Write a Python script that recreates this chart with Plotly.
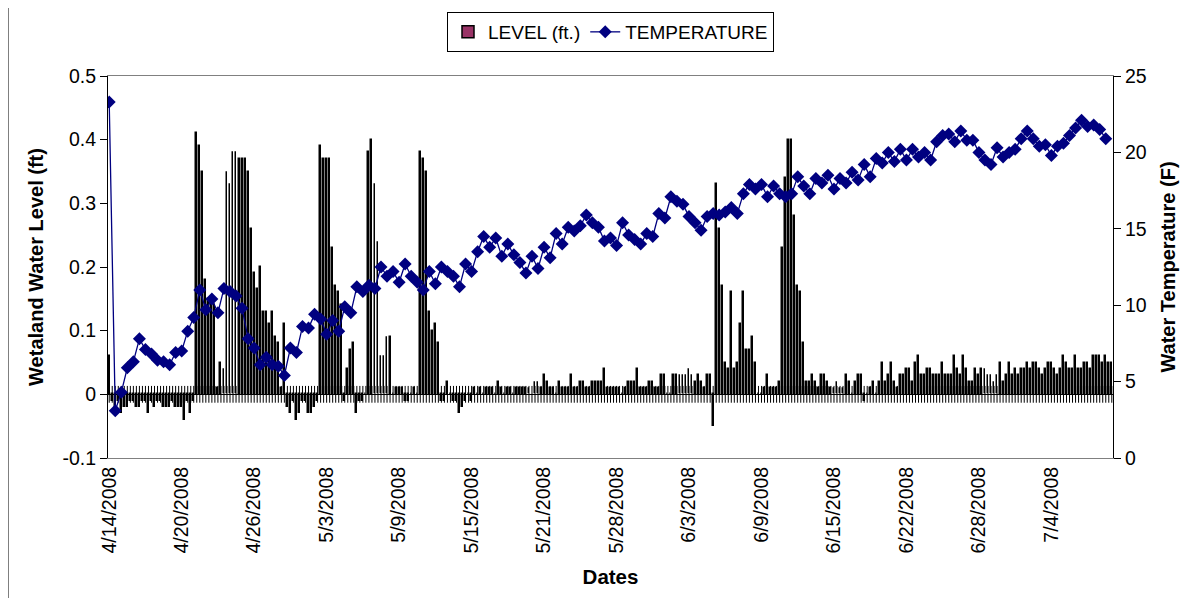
import plotly.graph_objects as go

# ---------------- data ----------------
tick_labels = ["4/14/2008", "4/20/2008", "4/26/2008", "5/3/2008", "5/9/2008",
               "5/15/2008", "5/21/2008", "5/28/2008", "6/3/2008", "6/9/2008",
               "6/15/2008", "6/22/2008", "6/28/2008", "7/4/2008"]
readings_per_label = 24      # one date label every 24 readings
temp_every = 2               # temperature logged every 2nd reading

level_ticks = [-0.1, 0, 0.1, 0.2, 0.3, 0.4, 0.5]
level_tick_text = ["-0.1", "0", "0.1", "0.2", "0.3", "0.4", "0.5"]
temp_ticks = [0, 5, 10, 15, 20, 25]

level = [
    0.06,
    -0.01, -0.02, -0.01, -0.03, -0.02, -0.02, -0.01, -0.01, -0.02, -0.02, -0.01, -0.01, -0.03, -0.01,
    -0.02, -0.01, -0.01, -0.02, -0.02, -0.02, -0.01, -0.02, -0.02, -0.02, -0.04, -0.01, -0.03, -0.01,
    0.41, 0.39, 0.35, 0.18, 0.15, 0.15, 0.14, 0.01, 0.05, 0.04, 0.35, 0.33, 0.38, 0.38, 0.37, 0.37,
    0.37, 0.35, 0.26, 0.19, 0.165, 0.20, 0.13, 0.13, 0.11, 0.13, 0.09,
    0.08, 0.01, 0.11, -0.02, -0.03, -0.01, -0.04, -0.03, -0.01, -0.01, -0.03, -0.03, -0.02, -0.01,
    0.39, 0.37, 0.37, 0.37, 0.23, 0.17, 0.16, 0.14, -0.01, 0.04, 0.07, 0.08, -0.03, -0.01, -0.01, 0.0,
    0.38, 0.40, 0.33, 0.24, 0.06, 0.06, 0.09, 0.09, 0.0, 0.01, 0.01, 0.01, -0.01, -0.01, 0.0, 0.01, 0.0,
    0.38, 0.37, 0.35, 0.13, 0.10, 0.11, 0.08, -0.01, -0.01, 0.02,
    0.0, -0.01, -0.01, -0.03, -0.02, -0.01, 0.0, -0.01, 0.01, 0.0, 0.01, 0.0, 0.01, 0.01, 0.01, 0.0,
    0.02, 0.01, 0.0, 0.01, 0.01, 0.0, 0.01, 0.01, 0.01, 0.01, 0.01, 0.0, 0.02, 0.02, 0.01, 0.03,
    0.02, 0.01, 0.01, 0.0, 0.02, 0.01, 0.01, 0.01, 0.03, 0.01, 0.01, 0.02, 0.02, 0.01, 0.01, 0.02,
    0.02, 0.02, 0.02, 0.04,
    0.01, 0.01, 0.01, 0.01, 0.01, 0.0, 0.01, 0.02, 0.02, 0.02, 0.04, 0.01, 0.01, 0.01, 0.02, 0.02,
    0.01, 0.01, 0.03, 0.03, 0.0, 0.0, 0.03, 0.03, 0.03, 0.03, 0.03, 0.04, 0.03, 0.02, 0.03, 0.02,
    0.01, 0.03, 0.03, -0.05,
    0.33, 0.26, 0.17, 0.05, 0.04, 0.16, 0.04, 0.05, 0.11, 0.16, 0.07, 0.07, 0.09, 0.05, 0.0, 0.0,
    0.01, 0.03, 0.01, 0.01, 0.01, 0.02,
    0.23, 0.34, 0.40, 0.40, 0.28, 0.17, 0.16, 0.08,
    0.02, 0.02, 0.03, 0.02, 0.01, 0.03, 0.03, 0.02, 0.01, 0.01, 0.02, 0.01, 0.01, 0.03, 0.02, 0.0,
    0.02, 0.03, 0.03, -0.01, 0.0, 0.01, 0.02, 0.0, 0.02, 0.05, 0.02, 0.03, 0.05, 0.02, 0.01, 0.03,
    0.03, 0.04, 0.04, 0.02, 0.05, 0.06, 0.03, 0.03, 0.04, 0.04, 0.03, 0.03, 0.03, 0.05, 0.03, 0.03,
    0.03, 0.06, 0.04, 0.03, 0.06, 0.04, 0.02, 0.02, 0.04, 0.03, 0.04, 0.04, 0.03, 0.03, 0.02, 0.03,
    0.05, 0.02, 0.03, 0.05, 0.03, 0.04, 0.03, 0.04, 0.04, 0.05, 0.04, 0.05, 0.05, 0.04, 0.03, 0.04,
    0.05, 0.05, 0.04, 0.03, 0.04, 0.06, 0.05, 0.04, 0.04, 0.06, 0.04, 0.04, 0.05, 0.05, 0.04, 0.06,
    0.06, 0.06, 0.05, 0.06, 0.05, 0.05,
]

temperature = [
    23.3, 3.1, 4.3, 5.9, 6.3, 7.8, 7.1, 6.8, 6.4, 6.3, 6.1, 6.9, 7.0, 8.3, 9.2, 11.0, 9.7, 10.4,
    9.5, 11.1, 10.9, 10.6, 9.8, 7.8, 7.2, 6.1, 6.6,
    6.1, 6.0, 5.4, 7.2, 6.9, 8.6, 8.5, 9.4, 9.1, 8.1, 9.0, 8.3, 9.9, 9.5, 11.2, 10.9, 11.3, 11.1,
    12.5, 11.9, 12.2, 11.5, 12.7, 11.9, 11.5, 11.0, 12.2, 11.4, 12.5,
    12.2, 11.9, 11.2, 12.7, 12.2, 13.5, 14.5, 13.8, 14.4, 13.2, 14.0, 13.3, 12.8, 12.1, 13.2, 12.4,
    13.8, 13.1, 14.7, 14.0, 15.1, 14.85, 15.2, 15.9, 15.4, 15.1, 14.2,
    14.4, 13.9, 15.4, 14.6, 14.3, 14.0, 14.7, 14.5, 16.0, 15.7, 17.1, 16.8, 16.6, 15.8, 15.4, 14.9,
    15.8, 16.0, 15.9, 16.1, 16.4, 16.0, 17.3, 17.9, 17.6, 17.9, 17.1, 17.8,
    17.3, 17.1, 17.3, 18.4, 17.8, 17.3, 18.3, 18.0, 18.5, 17.6, 18.3, 18.0, 18.7, 18.2, 19.2, 18.4,
    19.6, 19.3, 20.0, 19.4, 20.2, 19.5, 20.2, 19.7, 20.0, 19.5, 20.7, 21.1,
    21.2, 20.7, 21.4, 20.8, 20.8, 20.0, 19.5, 19.2, 20.3, 19.7, 20.0, 20.2, 20.9, 21.4, 20.9, 20.4,
    20.5, 19.8, 20.4, 20.6, 21.1, 21.6, 22.1, 21.7, 21.8, 21.5, 20.9,
]

# ---------------- figure ----------------
n = len(level)
x_level = list(range(n))
x_temp = [k * temp_every for k in range(len(temperature))]
tick_pos = [k * readings_per_label for k in range(len(tick_labels))]

FONT = "Liberation Sans, Arial, sans-serif"
PLOT_W, PLOT_H = 1005, 382
ML, MT, MR, MB = 100, 68, 72, 140

fig = go.Figure()

fig.add_trace(go.Bar(
    x=x_level, y=level, name="LEVEL (ft.)",
    width=0.3,
    marker=dict(color="#993366", line=dict(color="black", width=1.5)),
    hoverinfo="x+y",
))

# category tick marks crossing the zero line (one per reading)
fig.add_trace(go.Scatter(
    x=x_level, y=[0] * n, mode="markers", showlegend=False, hoverinfo="skip",
    marker=dict(symbol="line-ns", size=12, line=dict(color="black", width=1)),
))

fig.add_trace(go.Scatter(
    x=x_temp, y=temperature, name="TEMPERATURE", yaxis="y2",
    mode="lines+markers",
    line=dict(color="#000080", width=1.3),
    marker=dict(symbol="diamond", size=10, color="#000080"),
))

fig.update_layout(
    width=ML + PLOT_W + MR, height=MT + PLOT_H + MB,
    margin=dict(l=ML, r=MR, t=MT, b=MB, autoexpand=False),
    paper_bgcolor="white", plot_bgcolor="white",
    font=dict(family=FONT, size=19.5, color="black"),
    bargap=0,
    showlegend=True,
    legend=dict(orientation="h", x=0.5, xanchor="center", y=1 + (MT - 4) / PLOT_H,
                yanchor="top", bordercolor="black", borderwidth=1, bgcolor="white",
                font=dict(size=19), itemwidth=30, tracegroupgap=0),
    xaxis=dict(range=[-0.4, n - 0.6], tickmode="array", tickvals=tick_pos,
               ticktext=tick_labels, tickangle=-90, ticks="", automargin=False,
               showline=True, linecolor="#808080", linewidth=1, mirror=True,
               showgrid=False, zeroline=False,
               title=dict(text="<b>Dates</b>", font=dict(size=20.5), standoff=17)),
    yaxis=dict(range=[-0.1, 0.5], tickmode="array", tickvals=level_ticks,
               ticktext=level_tick_text, ticks="outside", ticklen=7, automargin=False,
               tickcolor="black", showline=True, linecolor="black", linewidth=1,
               showgrid=False, zeroline=True, zerolinecolor="black", zerolinewidth=1,
               title=dict(text="<b>Wetaland Water Level (ft)</b>", font=dict(size=20),
                          standoff=13)),
    yaxis2=dict(range=[0, 25], tickmode="array", tickvals=temp_ticks, automargin=False,
                overlaying="y", side="right", ticks="outside", ticklen=7,
                tickcolor="black", showline=True, linecolor="black", linewidth=1,
                showgrid=False, zeroline=False,
                title=dict(text="<b>Water Temperature (F)</b>", font=dict(size=20),
                           standoff=15)),
)

# outer chart frame edge visible at the left of the picture
fig.add_shape(type="line", xref="paper", yref="paper",
              x0=-ML / PLOT_W, x1=-ML / PLOT_W, y0=-MB / PLOT_H - 0.05, y1=1 + MT / PLOT_H + 0.05,
              line=dict(color="black", width=1))

print(len(level), len(temperature))
fig.write_html("out.html")
